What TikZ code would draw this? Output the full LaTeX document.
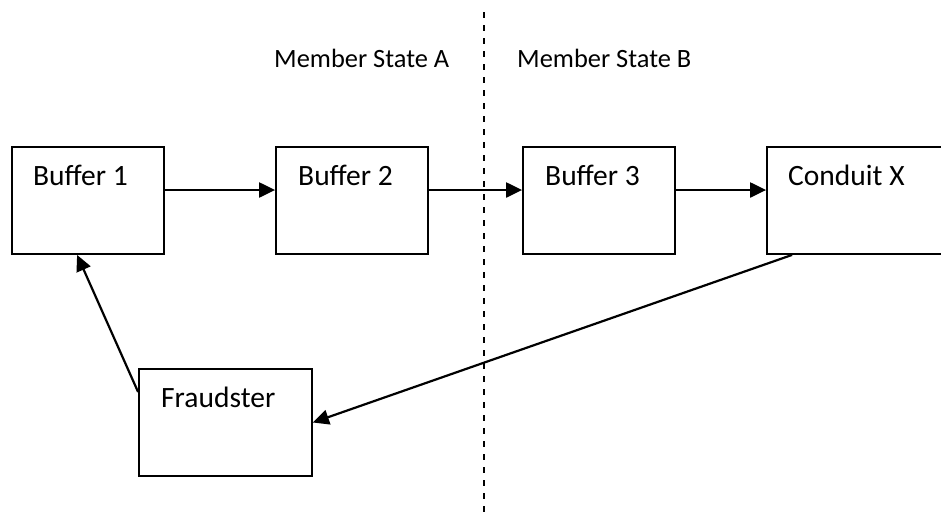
\documentclass[tikz,border=0pt]{standalone}
\usepackage{fontspec}
\setmainfont{Carlito}
\usetikzlibrary{arrows.meta,calc}
\begin{document}
\begin{tikzpicture}[x=1pt,y=-1pt,
  box/.style={draw=black,line width=1.8pt,minimum height=107pt,inner sep=0pt},
  lbl/.style={inner sep=0pt,anchor=base west,font=\fontsize{29.5}{34}\selectfont},
  state/.style={inner sep=0pt,anchor=base west,font=\fontsize{26.4}{31}\selectfont},
  arr/.style={line width=2.2pt,-{Triangle[length=16pt,width=15pt]}},
  divider/.style={line width=1.8pt,dash pattern=on 6pt off 7pt}]
\path[use as bounding box,clip] (0,0) rectangle (941,517);
\fill[white] (0,0) rectangle (941,517);
% boxes
\node[box,minimum width=152pt] (b1) at (88,200.5) {};
\node[box,minimum width=152pt] (b2) at (352,200.5) {};
\node[box,minimum width=152pt] (b3) at (599,200.5) {};
\node[box,minimum width=190pt] (cx) at (862,200.5) {};
\node[box,minimum width=173pt] (fr) at (225.5,422.5) {};
% labels
\node[lbl] (t1) at (33,185) {Buffer 1};
\node[lbl] (t2) at (298,185) {Buffer 2};
\node[lbl] (t3) at (545,185) {Buffer 3};
\node[lbl] (tc) at (788,185) {Conduit X};
\node[lbl] (tf) at (161,407) {Fraudster};
\node[state] (sa) at (274,67) {Member State A};
\node[state] (sb) at (517,67) {Member State B};
% divider
\coordinate (dtop) at (484,12);
\coordinate (dbot) at (484,520);
\draw[divider] (dtop) -- (dbot);
% arrows
\draw[arr] ([yshift=10.5pt]b1.east) -- ([yshift=10.5pt]b2.west);
\draw[arr] ([yshift=10.5pt]b2.east) -- ([yshift=10.5pt]b3.west);
\draw[arr] ([yshift=10.5pt]b3.east) -- ([yshift=10.5pt]cx.west);
\draw[arr] ([xshift=26pt]cx.south west) -- (fr.east);
\draw[arr] ([yshift=30.5pt]fr.west) -- ([xshift=66pt]b1.south west);
\end{tikzpicture}
\end{document}
